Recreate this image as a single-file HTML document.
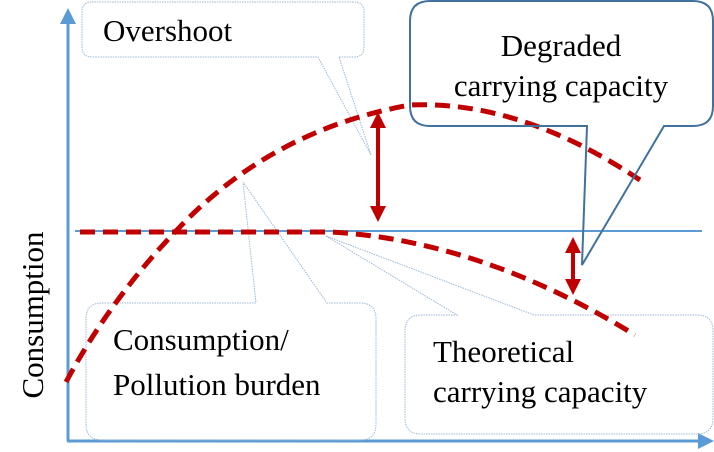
<!DOCTYPE html>
<html><head><style>html,body{margin:0;padding:0;background:#fff}svg{display:block}text{font-family:"Liberation Serif","DejaVu Serif",serif}</style></head>
<body>
<svg width="714" height="452" viewBox="0 0 714 452" xmlns="http://www.w3.org/2000/svg">
<defs>
<marker id="ra" markerWidth="4" markerHeight="4" refX="2" refY="2" orient="auto-start-reverse" markerUnits="strokeWidth"><path d="M0,0 L4,2 L0,4 z" fill="#c00000"/></marker>
</defs>
<path d="M68,441 L68,22" stroke="#5b9bd5" stroke-width="3" fill="none"/>
<path d="M60,24 L68,8 L76,24 z" fill="#5b9bd5"/>
<path d="M67,441 L700,441" stroke="#5b9bd5" stroke-width="3" fill="none"/>
<path d="M698,433 L714,441 L698,449 z" fill="#5b9bd5"/>
<line x1="75" y1="231" x2="702" y2="231" stroke="#5b9bd5" stroke-width="2"/>
<path d="M92,2 H354 Q364,2 364,12 V47 Q364,57 354,57 H339 L371,155 L318,57 H92 Q82,57 82,47 V12 Q82,2 92,2 Z" fill="none" stroke="#9bb8d6" stroke-width="1" stroke-dasharray="1.5,1"/>
<path d="M102,303 H256 L243,182 L327,303 H360 Q376,303 376,319 V424 Q376,440 360,440 H102 Q86,440 86,424 V319 Q86,303 102,303 Z" fill="none" stroke="#9bb8d6" stroke-width="1" stroke-dasharray="1.5,1"/>
<path d="M421,315 H457 L326,236 L534,315 H697 Q713,315 713,331 V418 Q713,434 697,434 H421 Q405,434 405,418 V331 Q405,315 421,315 Z" fill="none" stroke="#9bb8d6" stroke-width="1" stroke-dasharray="1.5,1"/>
<path d="M66,382 Q110,300 175,232 Q270,130 410,105 Q520,100 640,180" fill="none" stroke="#c00000" stroke-width="5" stroke-dasharray="15,8"/>
<path d="M80,232 L330,232 Q480,240 635,335" fill="none" stroke="#c00000" stroke-width="5" stroke-dasharray="15,8"/>
<path d="M430,1 H693 Q713,1 713,21 V106 Q713,126 693,126 H664 L582,265 L587,126 H430 Q410,126 410,106 V21 Q410,1 430,1 Z" fill="none" stroke="#41719c" stroke-width="2"/>
<line x1="378" y1="120" x2="378" y2="214" stroke="#c00000" stroke-width="4" marker-start="url(#ra)" marker-end="url(#ra)"/>
<line x1="573" y1="245" x2="573" y2="287" stroke="#c00000" stroke-width="4" marker-start="url(#ra)" marker-end="url(#ra)"/>
<g font-size="31" fill="#000">
<text x="103" y="41">Overshoot</text>
<text x="561" y="56" text-anchor="middle">Degraded</text>
<text x="561" y="96" text-anchor="middle">carrying capacity</text>
<text x="113" y="350">Consumption/</text>
<text x="113" y="395">Pollution burden</text>
<text x="433" y="362">Theoretical</text>
<text x="433" y="402">carrying capacity</text>
<text transform="translate(43,315) rotate(-90)" text-anchor="middle">Consumption</text>
</g>
</svg>
</body></html>
